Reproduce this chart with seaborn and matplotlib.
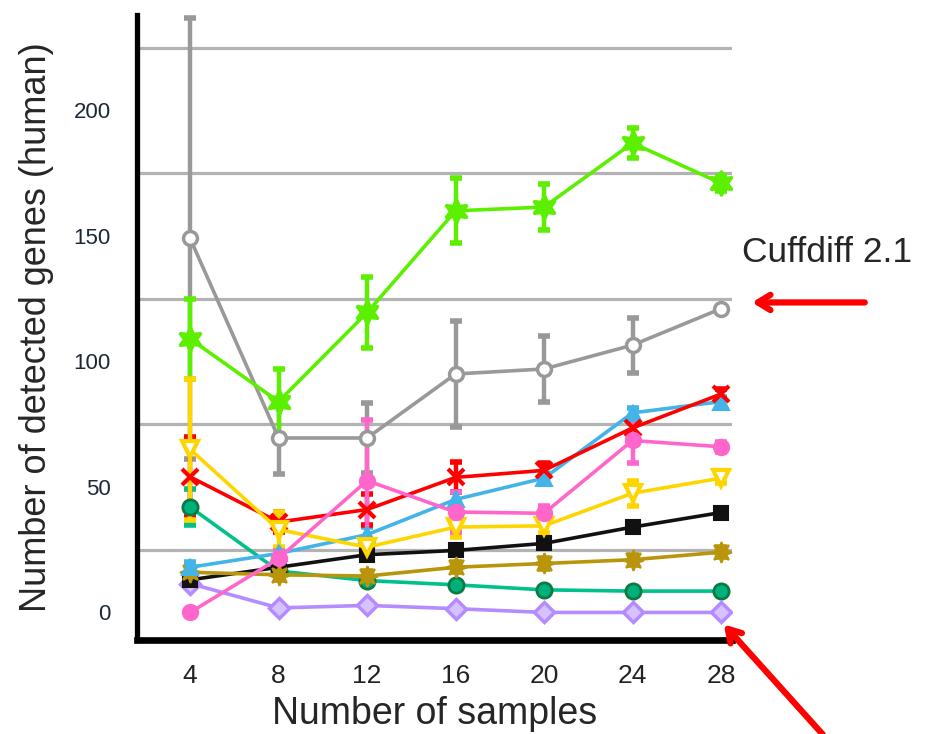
import matplotlib
matplotlib.use("Agg")
import matplotlib.pyplot as plt
import seaborn as sns
import pandas as pd

# ---------------- data ----------------
samples = [4, 8, 12, 16, 20, 24, 28]

lime_vals   = [109, 84, 119.5, 160, 161.5, 187, 171]
lime_err    = [16, 13, 14, 13, 9, 6, 3]
gray_vals   = [149, 69.5, 69.5, 95, 97, 106.5, 121]
gray_err    = [88, 14.5, 14, 21, 13, 11, 0]
red_vals    = [54, 36, 41, 53.8, 56.6, 73.5, 87]
red_err     = [16, 4, 6, 6, 3, 3, 2]
blue_vals   = [18, 23.5, 31, 45, 53.5, 79.5, 84]
blue_err    = [2, 2, 3, 3, 2, 2, 2]
pink_vals   = [0, 21.5, 52.5, 40, 39.5, 68.5, 66]
pink_err    = [0, 3, 24, 8, 3, 9, 2]
yellow_vals = [65, 33, 26, 34, 34.5, 47.5, 53.5]
yellow_err  = [28, 7, 3, 4, 3, 5, 2]
black_vals  = [13, 18, 23, 24.7, 27.5, 34, 39.8]
black_err   = [1, 1, 1, 1, 1, 1, 1]
gold_vals   = [16, 15, 14.5, 18, 19.5, 21, 24]
gold_err    = [2, 2, 2, 2, 2, 2, 2]
teal_vals   = [42, 16.5, 12.7, 11, 9, 8.5, 8.5]
teal_err    = [7, 1, 1, 1, 1, 1, 1]
purple_vals = [11.5, 1.8, 2.8, 1.5, 0, 0, 0]
purple_err  = [1, 1, 1, 1, 0, 0, 0]

y_ticks = [0, 50, 100, 150, 200]
grid_levels = [25, 75, 125, 175, 225]
annotation_text = "Cuffdiff 2.1"
x_label = "Number of samples"
y_label = "Number of detected genes (human)"

series_names = ["gray", "lime", "teal", "purple", "black", "gold", "blue", "red", "yellow", "pink"]
series_vals = dict(lime=lime_vals, gray=gray_vals, red=red_vals, blue=blue_vals, pink=pink_vals,
                   yellow=yellow_vals, black=black_vals, gold=gold_vals, teal=teal_vals, purple=purple_vals)
series_err = dict(lime=lime_err, gray=gray_err, red=red_err, blue=blue_err, pink=pink_err,
                  yellow=yellow_err, black=black_err, gold=gold_err, teal=teal_err, purple=purple_err)

rows = []
for name in series_names:
    for xv, yv, ev in zip(samples, series_vals[name], series_err[name]):
        rows.append(dict(series=name, samples=xv, genes=yv, err=ev))
df = pd.DataFrame(rows)

# ---------------- styles ----------------
styles = {
    "lime":   dict(color="#5cf000", marker=(6, 1, 0), ms=18, mfc="#5cf000", mec="#5cf000", mew=2),
    "gray":   dict(color="#999999", marker="o", ms=10, mfc="white", mec="#999999", mew=2.5),
    "red":    dict(color="#ff0000", marker="x", ms=11, mfc="#ff0000", mec="#ff0000", mew=3),
    "blue":   dict(color="#42b4e8", marker="^", ms=11, mfc="#42b4e8", mec="#42b4e8", mew=1.5),
    "pink":   dict(color="#ff66cc", marker="o", ms=11, mfc="#ff66cc", mec="#ff66cc", mew=1.5),
    "yellow": dict(color="#ffd500", marker="v", ms=12, mfc="white", mec="#ffd500", mew=3),
    "black":  dict(color="#111111", marker="s", ms=10.5, mfc="#111111", mec="#111111", mew=1.5),
    "gold":   dict(color="#b8950a", marker=(8, 1, 0), ms=15, mfc="#b8950a", mec="#b8950a", mew=1.5),
    "teal":   dict(color="#00c08b", marker="o", ms=11, mfc="#00b07a", mec="#0b7a45", mew=2),
    "purple": dict(color="#b58cff", marker="D", ms=10, mfc="#d6c2ff", mec="#b58cff", mew=2.5),
}

sns.set_style("white")
regular = ["Liberation Sans", "DejaVu Sans"]
plt.rcParams["font.family"] = regular

fig = plt.figure(figsize=(9.29, 7.34), dpi=100)
ax = fig.add_axes([0.1475, 0.128, 0.6405, 0.8515])

ax.set_xlim(1.6, 28.5)
ax.set_ylim(-11, 238)

for lv in grid_levels:
    ax.axhline(lv, color="#b3b3b3", lw=2.3, zorder=0.5)

for name in series_names:
    sub = df[df["series"] == name]
    st = styles[name]
    ax.errorbar(sub["samples"], sub["genes"], yerr=sub["err"], fmt="none",
                ecolor=st["color"], elinewidth=3.2, capsize=4, capthick=4, zorder=2)
    sns.lineplot(data=sub, x="samples", y="genes", ax=ax, color=st["color"], lw=2.6,
                 marker=st["marker"], markersize=st["ms"], markerfacecolor=st["mfc"],
                 markeredgecolor=st["mec"], markeredgewidth=st["mew"], zorder=3,
                 errorbar=None, legend=False)

ax.set_xticks(samples)
ax.set_xticklabels([str(s) for s in samples], fontsize=19, color="#222222")
ax.set_yticks(y_ticks)
ax.set_yticklabels([str(t) for t in y_ticks], fontsize=16, color="#1c2838")
ax.tick_params(axis="both", direction="out", length=5, width=4.5, color="#888888")
ax.tick_params(axis="y", pad=14)
ax.tick_params(axis="x", pad=12)

ax.set_xlabel(x_label, fontsize=27, labelpad=6)
ax.set_ylabel(y_label, fontsize=26, labelpad=14)

for s in ["top", "right"]:
    ax.spines[s].set_visible(False)
ax.spines["left"].set_linewidth(3.8)
ax.spines["bottom"].set_linewidth(4.8)
ax.spines["left"].set_color("black")
ax.spines["bottom"].set_color("black")

ax.text(28.95, 143.5, annotation_text, fontsize=25.5, ha="left", va="center", clip_on=False)
arrow = dict(arrowstyle="->,head_length=0.9,head_width=0.55", color="#ff0000", lw=4.5,
             shrinkA=0, shrinkB=0)
ax.annotate("", xy=(29.4, 123.5), xytext=(34.5, 123.5), arrowprops=arrow, annotation_clip=False)
ax.annotate("", xy=(28.13, -4.8), xytext=(32.6, -48.6), arrowprops=arrow, annotation_clip=False)

fig.savefig("out.png", dpi=100)
